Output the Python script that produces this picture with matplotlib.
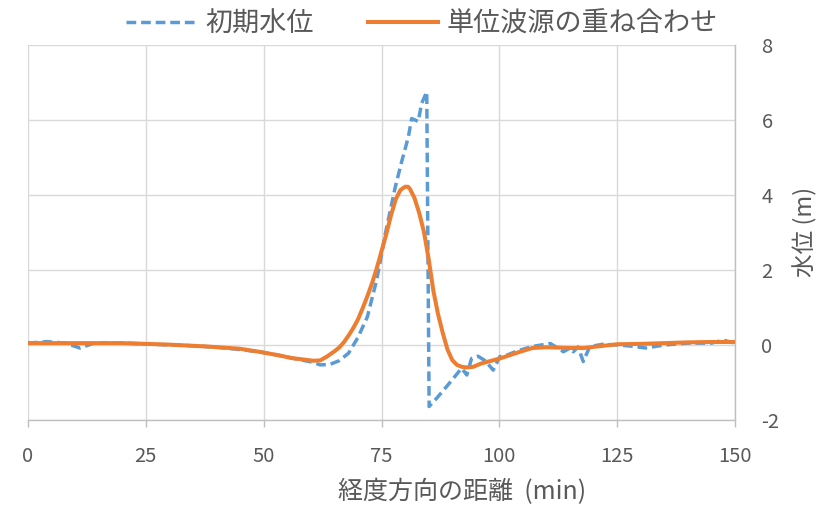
import matplotlib
matplotlib.use("Agg")
import matplotlib.pyplot as plt

plt.rcParams['font.family'] = ['Noto Sans CJK JP', 'DejaVu Sans']
plt.rcParams['axes.unicode_minus'] = False

# 初期水位 (blue dashed)
init_x = [0, 4, 8, 11, 14, 20, 25, 30, 35, 40, 45, 50, 55, 58, 60, 62, 64, 66, 68, 70,
          72, 73, 74, 75, 75.7, 76.8, 77.9, 79.3, 80.7, 81.4, 82.8, 83.5, 84.6, 85.1, 86.7,
          88.8, 90.5, 92.0, 93.1, 94.1, 95.5, 97.0, 98.7, 100.1, 101.6, 104, 107, 110.8,
          112, 113.6, 115, 115.7, 116.7, 117.8, 119.2, 122, 125, 128, 131, 135, 140, 145,
          147.5, 150]
init_y = [0.05, 0.09, 0.05, -0.08, 0.05, 0.05, 0.03, 0.0, -0.02, -0.06, -0.12, -0.2, -0.32,
          -0.4, -0.45, -0.53, -0.52, -0.42, -0.22, 0.2, 0.75, 1.25, 1.75, 2.4, 2.9, 3.55,
          4.2, 4.9, 5.55, 6.04, 5.96, 6.44, 6.75, -1.64, -1.42, -1.11, -0.85, -0.62, -0.8,
          -0.36, -0.3, -0.42, -0.67, -0.31, -0.27, -0.15, -0.04, 0.04, -0.05, -0.18, -0.08,
          -0.18, -0.05, -0.44, -0.04, 0.02, 0.0, -0.03, -0.08, 0.0, 0.05, 0.05, 0.13, 0.05]

# 単位波源の重ね合わせ (orange solid)
sup_x = [0, 10, 20, 25, 30, 38, 45, 49, 53, 56, 58, 60.5, 62, 63.4, 65, 66, 67, 68, 69, 70,
         71, 72, 73, 74, 75, 76, 77, 78, 79, 80, 80.6, 81, 82, 83, 84, 85, 86, 87, 88, 89,
         90, 91, 92, 93, 94.5, 96, 98, 100.1, 102, 104.4, 107, 110, 115, 118, 120, 125,
         130, 135, 140, 145, 150]
sup_y = [0.05, 0.05, 0.05, 0.03, 0.01, -0.04, -0.1, -0.18, -0.27, -0.35, -0.38, -0.42, -0.41,
         -0.31, -0.17, -0.07, 0.07, 0.25, 0.45, 0.68, 0.98, 1.3, 1.65, 2.05, 2.5, 2.95,
         3.45, 3.88, 4.13, 4.22, 4.22, 4.17, 3.92, 3.52, 3.02, 2.3, 1.45, 0.82, 0.32, -0.12,
         -0.4, -0.53, -0.58, -0.6, -0.58, -0.5, -0.43, -0.36, -0.28, -0.18, -0.08, -0.06,
         -0.08, -0.08, -0.05, 0.02, 0.03, 0.05, 0.07, 0.08, 0.08]

x_ticks = [0, 25, 50, 75, 100, 125, 150]
y_ticks = [-2, 0, 2, 4, 6, 8]
label_init = "初期水位"
label_sup = "単位波源の重ね合わせ"
x_label = "経度方向の距離  (min)"
y_label = "水位 (m)"

BLUE = "#5B9BD5"
ORANGE = "#ED7D31"
GRID = "#D9D9D9"
AXIS = "#BFBFBF"
TEXT = "#595959"

fig = plt.figure(figsize=(8.27, 5.07), dpi=100)
ax = fig.add_axes([28/827, 1 - 420/507, (735-28)/827, (420-45)/507])

l1, = ax.plot(init_x, init_y, color=BLUE, lw=2.5, linestyle=(0, (2.8, 1.4)),
              dash_capstyle='butt', label=label_init, zorder=3)
l2, = ax.plot(sup_x, sup_y, color=ORANGE, lw=2.9, label=label_sup, zorder=4,
              solid_joinstyle='round')

ax.set_xlim(0, 150)
ax.set_ylim(-2, 8)
ax.set_xticks(x_ticks)
ax.set_yticks(y_ticks)
ax.grid(True, color=GRID, lw=1.0, zorder=0)
ax.set_axisbelow(True)

for s in ['top', 'left']:
    ax.spines[s].set_visible(False)
for s in ['bottom', 'right']:
    ax.spines[s].set_color(AXIS)
    ax.spines[s].set_linewidth(1.0)

ax.yaxis.tick_right()
ax.tick_params(axis='y', length=0, pad=19, labelsize=14.5, labelcolor=TEXT)
ax.tick_params(axis='x', length=5, width=1.0, color=AXIS, pad=14, labelsize=14.5,
               labelcolor=TEXT, direction='out')

fig.text(462/827, 1 - 492/507, x_label, ha='center', va='center', fontsize=18, color=TEXT)
fig.text(805/827, 1 - 232/507, y_label, ha='center', va='center', fontsize=17,
         color=TEXT, rotation=90)

fig.legend(handles=[l1, l2], loc='center', bbox_to_anchor=(422/827, 1 - 24/507), ncol=2,
           frameon=False, fontsize=19.5, handlelength=2.6, handletextpad=0.3,
           columnspacing=2.0, labelcolor=TEXT)

fig.savefig("out.png", dpi=100)
